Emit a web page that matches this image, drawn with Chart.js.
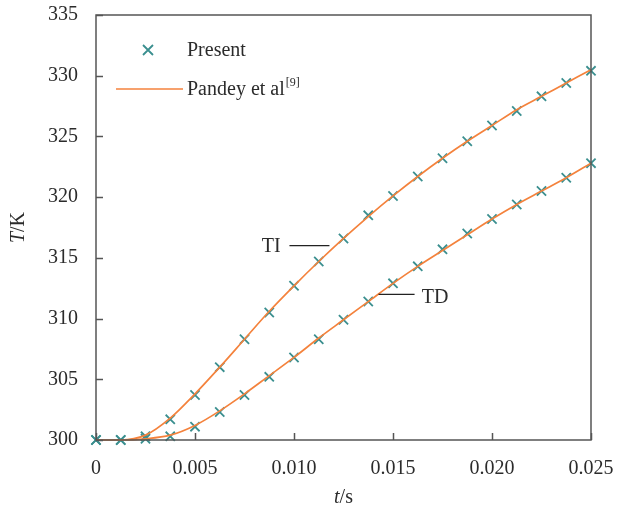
<!DOCTYPE html>
<html>
<head>
<meta charset="utf-8">
<script src="https://cdn.jsdelivr.net/npm/chart.js@4.4.1/dist/chart.umd.min.js"></script>
<style>
  html, body { margin: 0; padding: 0; background: #fff; }
  #chart { display: block; }
</style>
</head>
<body>
<canvas id="chart" width="626" height="514"></canvas>
<script>
// time (s)
var times = [0, 0.00125, 0.0025, 0.00375, 0.005, 0.00625, 0.0075, 0.00875, 0.01, 0.01125,
  0.0125, 0.01375, 0.015, 0.01625, 0.0175, 0.01875, 0.02, 0.02125, 0.0225, 0.02375, 0.025];
// present results (K)
var presentTI = [300, 300, 300.3, 301.7, 303.7, 306.0, 308.3, 310.5, 312.7, 314.7,
  316.6, 318.5, 320.1, 321.7, 323.2, 324.6, 325.9, 327.1, 328.3, 329.4, 330.4];
var presentTD = [300, 300, 300.1, 300.3, 301.1, 302.3, 303.7, 305.2, 306.8, 308.3,
  309.9, 311.4, 312.9, 314.3, 315.7, 317.0, 318.2, 319.4, 320.5, 321.6, 322.8];
// Pandey et al [9]
var pandeyTI = [300, 300, 300.4, 301.8, 303.8, 306.0, 308.3, 310.6, 312.7, 314.7,
  316.6, 318.4, 320.1, 321.7, 323.2, 324.6, 325.9, 327.2, 328.3, 329.4, 330.5];
var pandeyTD = [300, 300, 300.1, 300.4, 301.2, 302.4, 303.8, 305.3, 306.8, 308.4,
  309.9, 311.4, 312.9, 314.3, 315.6, 316.9, 318.2, 319.4, 320.5, 321.6, 322.8];
var xTicks = [0, 0.005, 0.01, 0.015, 0.02, 0.025];
var xTickLabels = ['0', '0.005', '0.010', '0.015', '0.020', '0.025'];
var yTicks = [300, 305, 310, 315, 320, 325, 330, 335];

var teal = '#3a8f8f';
var orange = '#f4823c';
var textColor = '#2b2b2b';
var serif = '"Liberation Serif", "Times New Roman", serif';
var fs = 20;

function pts(xs, ys) {
  return xs.map(function (x, i) { return { x: x, y: ys[i] }; });
}

var decor = {
  id: 'decor',
  afterDraw: function (chart) {
    var c = chart.ctx, a = chart.chartArea;
    var sx = chart.scales.x, sy = chart.scales.y;
    c.save();
    // box
    c.strokeStyle = '#555';
    c.lineWidth = 1.5;
    c.strokeRect(a.left, a.top, a.right - a.left, a.bottom - a.top);
    // inward ticks
    c.beginPath();
    xTicks.forEach(function (v) {
      var px = Math.round(sx.getPixelForValue(v)) + 0.5;
      c.moveTo(px, a.bottom); c.lineTo(px, a.bottom - 7);
    });
    yTicks.forEach(function (v) {
      var py = Math.round(sy.getPixelForValue(v)) + 0.5;
      c.moveTo(a.left, py); c.lineTo(a.left + 7, py);
    });
    c.stroke();

    // axis titles
    c.fillStyle = textColor;
    c.textBaseline = 'middle';
    c.font = 'italic ' + fs + 'px ' + serif;
    var w1 = c.measureText('t').width;
    c.font = fs + 'px ' + serif;
    var w2 = c.measureText('/s').width;
    var cx = (a.left + a.right) / 2 - (w1 + w2) / 2;
    c.textAlign = 'left';
    c.font = 'italic ' + fs + 'px ' + serif;
    c.fillText('t', cx, 498);
    c.font = fs + 'px ' + serif;
    c.fillText('/s', cx + w1, 498);

    c.save();
    c.translate(19, (a.top + a.bottom) / 2);
    c.rotate(-Math.PI / 2);
    c.font = 'italic ' + fs + 'px ' + serif;
    var w3 = c.measureText('T').width;
    c.font = fs + 'px ' + serif;
    var w4 = c.measureText('/K').width;
    var cy = -(w3 + w4) / 2;
    c.font = 'italic ' + fs + 'px ' + serif;
    c.fillText('T', cy, 0);
    c.font = fs + 'px ' + serif;
    c.fillText('/K', cy + w3, 0);
    c.restore();

    // legend
    c.strokeStyle = teal;
    c.lineWidth = 1.8;
    var lx = 148, ly = 50, r = 5;
    c.beginPath();
    c.moveTo(lx - r, ly - r); c.lineTo(lx + r, ly + r);
    c.moveTo(lx - r, ly + r); c.lineTo(lx + r, ly - r);
    c.stroke();
    c.font = fs + 'px ' + serif;
    c.fillStyle = textColor;
    c.fillText('Present', 187, 51);
    c.strokeStyle = orange;
    c.lineWidth = 1.6;
    c.beginPath();
    c.moveTo(116, 89); c.lineTo(183, 89);
    c.stroke();
    c.fillText('Pandey et al', 187, 90);
    var pw = c.measureText('Pandey et al').width;
    c.font = '12px ' + serif;
    c.fillText('[9]', 187 + pw + 1, 83);

    // curve labels
    c.strokeStyle = '#222';
    c.lineWidth = 1.2;
    c.font = fs + 'px ' + serif;
    var tiY = sy.getPixelForValue(316.0);
    c.beginPath();
    c.moveTo(sx.getPixelForValue(0.00977), tiY);
    c.lineTo(sx.getPixelForValue(0.01179), tiY);
    c.stroke();
    c.textAlign = 'right';
    c.fillText('TI', sx.getPixelForValue(0.00933), tiY + 1);
    var tdY = sy.getPixelForValue(312.0);
    c.beginPath();
    c.moveTo(sx.getPixelForValue(0.01427), tdY);
    c.lineTo(sx.getPixelForValue(0.01609), tdY);
    c.stroke();
    c.textAlign = 'left';
    c.fillText('TD', sx.getPixelForValue(0.01645), tdY + 3);
    c.restore();
  }
};

var lineStyle = {
  type: 'line', borderColor: orange, borderWidth: 1.7, pointRadius: 0,
  cubicInterpolationMode: 'monotone', fill: false
};
var markStyle = {
  type: 'scatter', showLine: false, pointStyle: 'crossRot', pointRadius: 6.5,
  borderColor: teal, backgroundColor: teal, pointBorderWidth: 1.8
};

var ctx = document.getElementById('chart').getContext('2d');
var chart = new Chart(ctx, {
  data: {
    datasets: [
      Object.assign({ label: 'Pandey et al TI', data: pts(times, pandeyTI) }, lineStyle),
      Object.assign({ label: 'Pandey et al TD', data: pts(times, pandeyTD) }, lineStyle),
      Object.assign({ label: 'Present TI', data: pts(times, presentTI) }, markStyle),
      Object.assign({ label: 'Present TD', data: pts(times, presentTD) }, markStyle)
    ]
  },
  options: {
    responsive: false,
    animation: false,
    clip: false,
    layout: { padding: { top: 15, right: 35, left: 0, bottom: 0 } },
    plugins: { legend: { display: false }, tooltip: { enabled: false } },
    scales: {
      x: {
        type: 'linear', min: 0, max: 0.025,
        grid: { display: false }, border: { display: false },
        afterBuildTicks: function (s) { s.ticks = xTicks.map(function (v) { return { value: v }; }); },
        afterFit: function (s) { s.height = 74; s.paddingLeft = 0; s.paddingRight = 0; },
        ticks: {
          padding: 9, color: textColor, maxRotation: 0, font: { family: serif, size: fs },
          callback: function (v) { return xTickLabels[xTicks.indexOf(v)]; }
        }
      },
      y: {
        min: 300, max: 335,
        grid: { display: false }, border: { display: false },
        afterBuildTicks: function (s) { s.ticks = yTicks.map(function (v) { return { value: v }; }); },
        afterFit: function (s) { s.width = 96; s.paddingTop = 0; s.paddingBottom = 0; },
        ticks: { padding: 10, color: textColor, font: { family: serif, size: fs } }
      }
    }
  },
  plugins: [decor]
});
</script>
</body>
</html>
